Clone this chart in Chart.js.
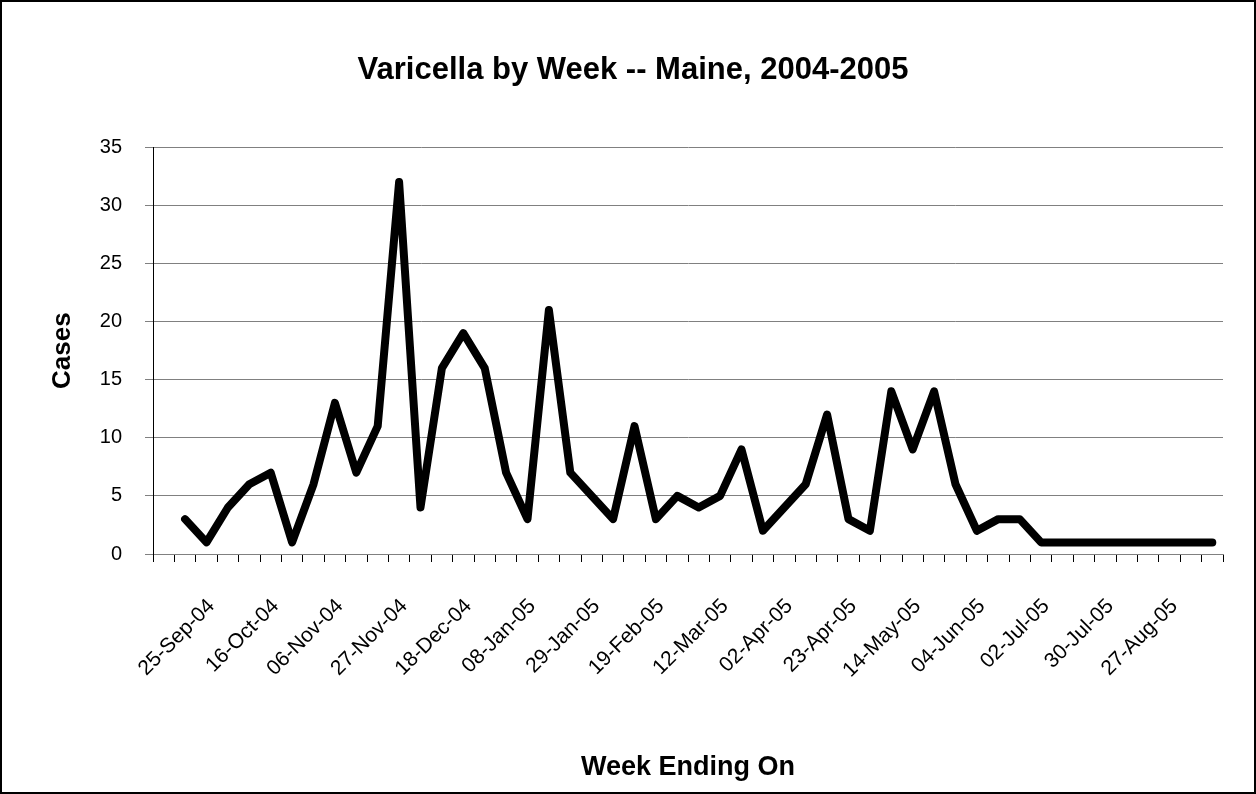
<!DOCTYPE html>
<html>
<head>
<meta charset="utf-8">
<script src="https://cdn.jsdelivr.net/npm/chart.js@4.4.1/dist/chart.umd.min.js"></script>
<style>
  html, body { margin: 0; padding: 0; background: #fff; }
  #wrap { position: relative; width: 1256px; height: 794px; }
  #frame { position: absolute; left: 0; top: 0; width: 1256px; height: 794px; box-sizing: border-box; border: 2px solid #000; pointer-events: none; }
</style>
</head>
<body>
<div id="wrap">
  <canvas id="varicella" width="1256" height="794"></canvas>
  <div id="frame"></div>
</div>
<script>
// labelled weeks (every 3rd category on the axis)
var weekLabels = ["25-Sep-04", "16-Oct-04", "06-Nov-04", "27-Nov-04", "18-Dec-04", "08-Jan-05", "29-Jan-05", "19-Feb-05",
                  "12-Mar-05", "02-Apr-05", "23-Apr-05", "14-May-05", "04-Jun-05", "02-Jul-05", "30-Jul-05", "27-Aug-05"];
// cases per week, first slot empty
var cases = [null, 3, 1, 4, 6, 7, 1, 6, 13, 7, 11,
             32, 4, 16, 19, 16, 7, 3, 21, 7, 5,
             3, 11, 3, 5, 4, 5, 9, 2, 4, 6,
             12, 3, 2, 14, 9, 14, 6, 2, 3, 3,
             1, 1, 1, 1, 1, 1, 1, 1, 1];
var yTicks = [0, 5, 10, 15, 20, 25, 30, 35];

var firstLabel = 2;
var labelStep = 3;

var categories = cases.map(function (v, i) {
    if (i < firstLabel || (i - firstLabel) % labelStep !== 0) return "";
    return weekLabels[(i - firstLabel) / labelStep] || "";
});

Chart.defaults.font.family = "'Liberation Sans', Arial, sans-serif";
Chart.defaults.color = "#000";

new Chart("varicella", {
    type: "line",
    data: {
        labels: categories,
        datasets: [{
            data: cases,
            borderColor: "#000",
            borderWidth: 8,
            borderCapStyle: "round",
            borderJoinStyle: "round",
            pointRadius: 0,
            tension: 0
        }]
    },
    options: {
        responsive: false,
        animation: false,
        devicePixelRatio: 1,
        layout: {
            padding: { left: 43, right: 33, top: 0, bottom: 6 }
        },
        plugins: {
            legend: { display: false },
            tooltip: { enabled: false },
            title: {
                display: true,
                text: "Varicella by Week -- Maine, 2004-2005",
                font: { size: 31, weight: "bold" },
                color: "#000",
                padding: { top: 52, bottom: 58 }
            }
        },
        scales: {
            x: {
                offset: true,
                grid: {
                    offset: true,
                    drawOnChartArea: false,
                    drawTicks: true,
                    tickLength: 8,
                    color: "#000"
                },
                border: { color: "#808080", width: 1 },
                ticks: {
                    autoSkip: false,
                    minRotation: 45,
                    maxRotation: 45,
                    padding: 32,
                    labelOffset: 5,
                    font: { size: 21 },
                    color: "#000"
                },
                title: {
                    display: true,
                    text: "Week Ending On",
                    font: { size: 27, weight: "bold" },
                    color: "#000"
                },
                afterFit: function (scale) {
                    scale.height = 234;
                    scale.paddingLeft = 0;
                    scale.paddingRight = 0;
                }
            },
            y: {
                min: 0,
                max: 35,
                afterBuildTicks: function (scale) {
                    scale.ticks = yTicks.map(function (v) { return { value: v }; });
                },
                grid: {
                    color: "#808080",
                    tickLength: 8
                },
                border: { color: "#000", width: 1 },
                ticks: {
                    padding: 23,
                    font: { size: 20 },
                    color: "#000"
                },
                title: {
                    display: true,
                    text: "Cases",
                    font: { size: 26, weight: "bold" },
                    color: "#000"
                },
                afterFit: function (scale) { scale.width = 110; }
            }
        }
    }
});
</script>
</body>
</html>
